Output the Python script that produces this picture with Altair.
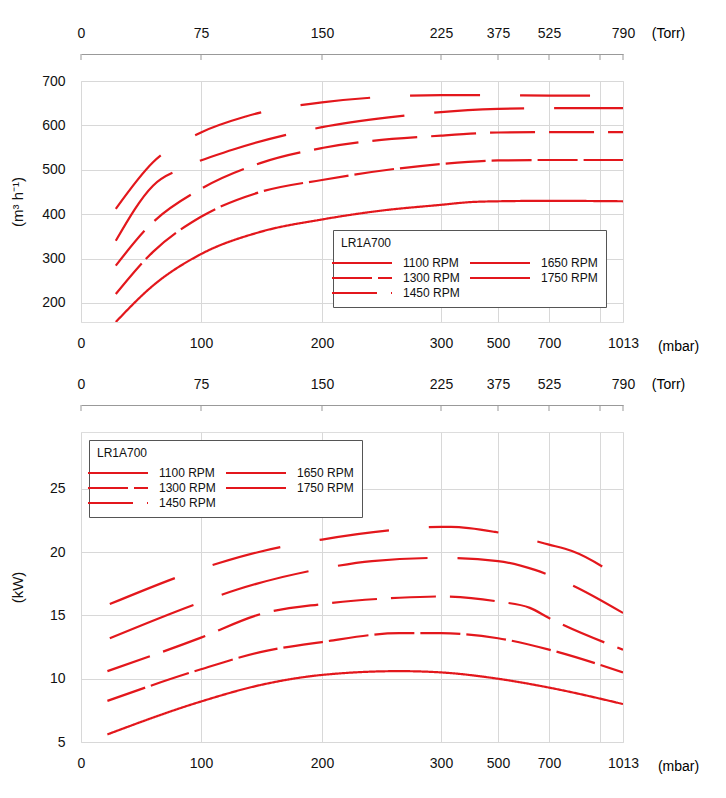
import altair as alt
import numpy as np
import pandas as pd

FONT = "Liberation Sans, Arial, sans-serif"
RED = "#e3171c"

# axis mapping (mbar -> position units on the broken axis)
MBAR_TICKS = [0, 100, 200, 300, 500, 700, 900, 1013]
U_POS = [0, 120, 241, 360, 417, 468, 519, 542]
MBAR_LABELS = ["0", "100", "200", "300", "500", "700", "", "1013"]
TORR_LABELS = ["0", "75", "150", "225", "375", "525", "", "790"]

SERIES = ["1100 RPM", "1300 RPM", "1450 RPM", "1650 RPM", "1750 RPM"]

# flow (m3/h)
flow_x = {
    "1100 RPM": [29, 60, 100, 149, 200, 250, 300, 400, 500, 700, 1013],
    "1300 RPM": [29, 60, 100, 149, 200, 300, 500, 700, 1013],
    "1450 RPM": [29, 57, 100, 149, 200, 300, 500, 700, 1013],
    "1650 RPM": [29, 60, 87, 126, 200, 256, 300, 500, 700, 1013],
    "1750 RPM": [29, 60, 100, 137, 200, 300, 500, 700, 1013],
}
flow_y = {
    "1100 RPM": [157, 239, 310, 360, 388, 408, 421, 427, 429, 430, 429],
    "1300 RPM": [220, 315, 394, 450, 477, 513, 521, 522, 522],
    "1450 RPM": [284, 374, 457, 515, 549, 577, 584, 585, 585],
    "1650 RPM": [340, 464, 506, 545, 596, 618, 630, 637, 639, 639],
    "1750 RPM": [412, 517, 584, 620, 652, 668, 668, 667, 667],
}

# power (kW)
pow_x = {
    "1100 RPM": [22, 100, 149, 200, 265, 300, 500, 700, 1013],
    "1300 RPM": [22, 100, 149, 200, 265, 300, 500, 700, 1013],
    "1450 RPM": [22, 100, 149, 200, 265, 300, 500, 625, 700, 1013],
    "1650 RPM": [24, 100, 130, 200, 242, 300, 500, 645, 790, 1013],
    "1750 RPM": [24, 115, 147, 200, 265, 300, 335, 490, 700, 790, 1013],
}
pow_y = {
    "1100 RPM": [5.6, 8.2, 9.5, 10.3, 10.6, 10.5, 10.0, 9.3, 8.0],
    "1300 RPM": [8.25, 10.75, 12.1, 12.9, 13.6, 13.6, 13.2, 12.3, 10.5],
    "1450 RPM": [10.6, 13.25, 15.1, 15.9, 16.4, 16.5, 16.1, 15.6, 14.8, 12.3],
    "1650 RPM": [13.2, 16.05, 17.05, 18.7, 19.3, 19.55, 19.3, 18.6, 17.4, 15.2],
    "1750 RPM": [15.9, 19.15, 20.0, 21.0, 21.8, 22.0, 22.0, 21.6, 20.6, 20.1, 17.8],
}

DASHES = {
    "1100 RPM": [1, 0],
    "1300 RPM": [40, 6],
    "1450 RPM": [45, 14],
    "1650 RPM": [90, 30],
    "1750 RPM": [70, 40],
}


def frame(xs, ys):
    rows = []
    for s in SERIES:
        for m, v in zip(xs[s], ys[s]):
            rows.append({"series": s, "mbar": m, "u": float(np.interp(m, MBAR_TICKS, U_POS)), "v": v})
    return pd.DataFrame(rows)


def expr(labels):
    e = "''"
    for u, l in zip(U_POS, labels):
        e = f"datum.value == {u} ? '{l}' : ({e})"
    return e


ticks_df = pd.DataFrame({"u": U_POS})
xscale = alt.Scale(domain=[0, 542], nice=False, zero=False)


def panel(df, ydom, yvals, ytitle, height, lx, ly, ytitlex):
    lines = alt.Chart(df).mark_line(color=RED, strokeWidth=2.2, interpolate="monotone", clip=True).encode(
        x=alt.X("u:Q", scale=xscale,
                axis=alt.Axis(values=U_POS, labelExpr=expr(MBAR_LABELS), ticks=False, domain=False,
                              grid=True, gridColor="#d8d8d8", labelPadding=14, labelFontSize=14,
                              labelFont=FONT, labelColor="#111", title="(mbar)", titleFont=FONT,
                              titleFontSize=14, titleFontWeight="normal", titleX=597, titleY=24,
                              titleAlign="center", titleBaseline="middle", labelFlush=False)),
        y=alt.Y("v:Q", scale=alt.Scale(domain=ydom, nice=False, zero=False),
                axis=alt.Axis(values=yvals, ticks=False, domain=False, grid=True, gridColor="#d8d8d8",
                              labelPadding=16, labelFontSize=14, labelFont=FONT, labelColor="#111",
                              title=ytitle, titleFont=FONT, titleFontSize=15,
                              titleFontWeight="normal", titleX=ytitlex, titleColor="#111")),
        strokeDash=alt.StrokeDash("series:N",
                                  scale=alt.Scale(domain=SERIES, range=[DASHES[s] for s in SERIES]),
                                  legend=alt.Legend(title="LR1A700", orient="none", legendX=lx, legendY=ly,
                                                    columns=2, direction="vertical",
                                                    strokeColor="#555", fillColor="white", padding=8,
                                                    symbolType="M-5,0H5", symbolSize=144, symbolOffset=14,
                                                    labelOffset=34, symbolStrokeColor=RED,
                                                    symbolStrokeWidth=2, columnPadding=6, rowPadding=2,
                                                    labelFont=FONT, labelFontSize=12, titleFont=FONT,
                                                    titleFontSize=12, titleFontWeight="normal",
                                                    titlePadding=6, labelColor="#111", titleColor="#111")),
    )
    top = alt.Chart(ticks_df).mark_rule(color="#999", strokeWidth=1).encode(
        x=alt.X("u:Q", scale=xscale,
                axis=alt.Axis(orient="top", values=U_POS, labelExpr=expr(TORR_LABELS), ticks=False,
                              domain=True, domainColor="#999", grid=False, offset=27, labelPadding=14,
                              labelFontSize=14, labelFont=FONT, labelColor="#111", title="(Torr)",
                              titleFont=FONT, titleFontSize=14, titleFontWeight="normal", titleX=587,
                              titleY=-21, titleAlign="center", titleBaseline="middle", labelFlush=False)),
        y=alt.value(-27), y2=alt.value(-21),
    )
    return alt.layer(lines, top).resolve_axis(x="independent").properties(width=542, height=height)


c1 = panel(frame(flow_x, flow_y), [157, 700], [200, 300, 400, 500, 600, 700], "(m³ h⁻¹)", 241, 252, 149, -56)
c2 = panel(frame(pow_x, pow_y), [5, 29.5], [5, 10, 15, 20, 25], "(kW)", 310, 8, 8, -56)

chart = alt.vconcat(c1, c2, spacing=110, bounds="flush").resolve_legend(
    strokeDash="independent"
).resolve_scale(strokeDash="independent").configure_view(
    stroke="#444", strokeWidth=1.5
).configure(padding={"left": 1, "top": 17, "right": 5, "bottom": 5})

chart.save("out.html", embed_options={"renderer": "svg", "actions": False})
